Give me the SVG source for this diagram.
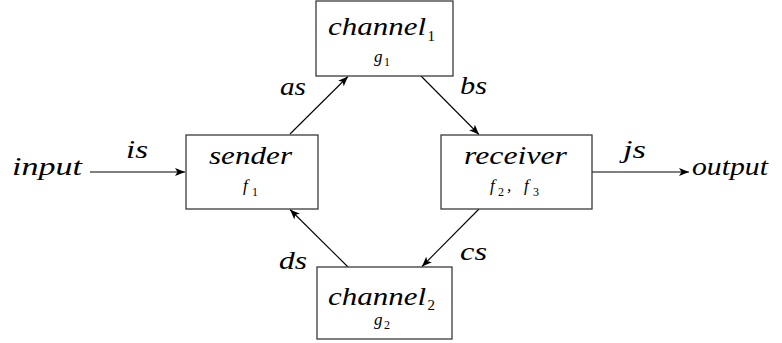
<svg xmlns="http://www.w3.org/2000/svg" width="782" height="343" viewBox="0 0 782 343">
  <style>
    text { font-family: 'Liberation Serif', 'DejaVu Serif', serif; fill: #000; }
    .box { fill: #ffffff; stroke: #3a3a3a; stroke-width: 1.3; }
    .edge { stroke: #000000; stroke-width: 1.1; fill: none; marker-end: url(#head); }
    .m { font-style: italic; font-size: 25px; }
    .s { font-style: italic; font-size: 17px; }
    .d { font-size: 15px; }
    .dd { font-size: 12px; }
  </style>
  <defs>
    <marker id="head" viewBox="0 0 10 8" refX="10" refY="4" markerWidth="10" markerHeight="8" markerUnits="userSpaceOnUse" orient="auto">
      <path d="M0,0 L10,4 L0,8 L2.5,4 Z" fill="#000"/>
    </marker>
  </defs>

  <!-- connectors and their stream labels -->
  <g id="connectors">
    <line class="edge" x1="90" y1="172" x2="185" y2="172"/>
    <line class="edge" x1="592" y1="172" x2="689" y2="172"/>
    <line class="edge" x1="290" y1="134" x2="348" y2="76.5"/>
    <line class="edge" x1="421" y1="76" x2="479" y2="134.5"/>
    <line class="edge" x1="479" y1="209" x2="422" y2="266.5"/>
    <line class="edge" x1="348" y1="267" x2="290" y2="209.5"/>
    <text class="m" x="126" y="158" textLength="22" lengthAdjust="spacingAndGlyphs">is</text>
    <text class="m" x="623" y="158" textLength="23" lengthAdjust="spacingAndGlyphs">js</text>
    <text class="m" x="280" y="95" textLength="26" lengthAdjust="spacingAndGlyphs">as</text>
    <text class="m" x="460" y="94" textLength="27" lengthAdjust="spacingAndGlyphs">bs</text>
    <text class="m" x="460" y="260" textLength="27" lengthAdjust="spacingAndGlyphs">cs</text>
    <text class="m" x="279" y="269" textLength="28" lengthAdjust="spacingAndGlyphs">ds</text>
  </g>

  <!-- terminals -->
  <g id="input">
    <text class="m" x="12" y="175" textLength="70" lengthAdjust="spacingAndGlyphs">input</text>
  </g>
  <g id="output">
    <text class="m" x="692" y="175" textLength="76" lengthAdjust="spacingAndGlyphs">output</text>
  </g>

  <!-- nodes -->
  <g id="channel1">
    <rect class="box" x="316" y="1" width="137" height="75"/>
    <text class="m" x="328" y="35" textLength="98" lengthAdjust="spacingAndGlyphs">channel</text>
    <text class="d" x="427.5" y="41">1</text>
    <text class="s" x="374" y="62">g</text>
    <text class="dd" x="384" y="66">1</text>
  </g>
  <g id="sender">
    <rect class="box" x="186" y="135" width="132" height="74"/>
    <text class="m" x="209" y="164" textLength="83" lengthAdjust="spacingAndGlyphs">sender</text>
    <text class="s" x="243" y="191">f</text>
    <text class="dd" x="252" y="196">1</text>
  </g>
  <g id="receiver">
    <rect class="box" x="441" y="135" width="151" height="74"/>
    <text class="m" x="464" y="164" textLength="103" lengthAdjust="spacingAndGlyphs">receiver</text>
    <text class="s" x="490" y="191">f</text>
    <text class="dd" x="498" y="196">2</text>
    <text class="s" x="507" y="191">,</text>
    <text class="s" x="524" y="191">f</text>
    <text class="dd" x="533" y="196">3</text>
  </g>
  <g id="channel2">
    <rect class="box" x="317" y="267" width="135" height="72"/>
    <text class="m" x="328" y="305" textLength="98" lengthAdjust="spacingAndGlyphs">channel</text>
    <text class="d" x="427.5" y="310">2</text>
    <text class="s" x="374" y="325">g</text>
    <text class="dd" x="384" y="329">2</text>
  </g>
</svg>
